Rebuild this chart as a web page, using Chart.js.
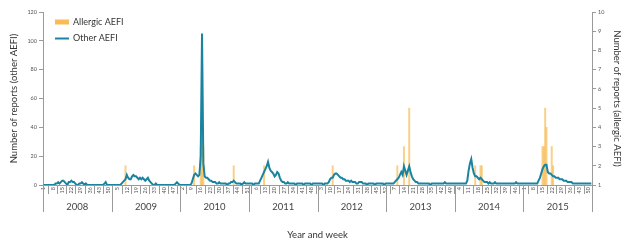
<!DOCTYPE html>
<html><head><meta charset="utf-8">
<script src="https://cdn.jsdelivr.net/npm/chart.js@4/dist/chart.umd.min.js"></script>
<style>html,body{margin:0;padding:0;background:#fff}</style>
</head><body>
<canvas id="c" width="628" height="247"></canvas>
<script>
// ---- data ----
const years = ['2008','2009','2010','2011','2012','2013','2014','2015'];
const weeksPerYear = 52;

// weekly counts of other AEFI (left axis)
const other2008 = [0,0,0,0,0,0,0,0,0,1, 1,2,1,2,3,3,2,1,0,2, 2,3,2,2,1,0,0,1,1,2, 1,0,1,0,0,0,0,0,0,0, 0,0,0,0,0,0,1,2,0,0, 0,0];
const other2009 = [0,0,0,0,0,0,0,1,2,3, 4,7,5,4,4,6,7,6,6,5, 4,5,4,5,4,3,4,5,3,2, 1,0,0,1,0,0,0,0,0,0, 0,0,0,0,0,0,0,0,1,2, 1,0];
const other2010 = [0,0,0,0,0,0,0,0,1,4, 7,8,7,6,7,20,105,15,6,5, 5,4,3,3,2,2,2,1,1,2, 1,1,1,1,1,0,1,1,2,2, 3,2,1,1,1,1,0,1,2,1, 1,1];
const other2011 = [1,1,1,0,1,1,1,1,3,5, 7,9,11,13,16,12,10,9,8,6, 7,9,8,5,3,2,2,1,1,2, 1,1,1,1,1,0,1,1,1,1, 1,0,1,1,1,1,1,0,1,1, 1,1];
const other2012 = [1,1,1,1,0,1,1,1,2,4, 5,5,7,8,8,7,6,5,5,4, 4,3,3,3,2,3,2,2,2,1, 1,2,2,2,1,1,1,0,1,1, 1,1,1,0,1,1,1,1,1,1, 0,1];
const other2013 = [1,1,1,1,1,1,2,3,4,5, 7,9,7,13,10,7,10,13,9,6, 4,3,2,2,1,1,1,1,1,1, 1,1,1,0,1,1,1,1,1,1, 1,1,1,1,2,1,1,1,1,1, 1,1];
const other2014 = [1,1,1,1,1,1,1,1,1,3, 10,15,18,12,8,6,6,5,4,5, 4,3,2,2,2,1,2,1,1,1, 2,1,1,1,1,1,1,1,1,1, 1,1,1,1,1,1,2,1,1,1, 1,1];
const other2015 = [1,1,1,1,1,1,1,1,1,1, 1,3,5,8,11,13,14,14,9,8, 8,7,6,6,5,5,5,4,4,4, 3,3,3,2,2,2,2,1,1,1, 1,1,1,1,1,1,1,1,1,1, 1,1];

// allergic AEFI: [week, count] (right axis, starts at 1)
const allergic2008 = [];
const allergic2009 = [[11,2]];
const allergic2010 = [[11,2],[16,3],[17,4],[18,3],[41,2]];
const allergic2011 = [[12,2]];
const allergic2012 = [[12,2]];
const allergic2013 = [[9,2],[14,3],[18,5]];
const allergic2014 = [[16,2],[20,2],[21,2]];
const allergic2015 = [[15,3],[16,3],[17,5],[18,4],[22,3],[23,2]];

const leftTicks = {min:0, max:120, step:20};
const rightTicks = {min:1, max:10, step:1};
const weekTickStep = 7;

// ---- build ----
const otherByYear = [other2008,other2009,other2010,other2011,other2012,other2013,other2014,other2015];
const allergicByYear = [allergic2008,allergic2009,allergic2010,allergic2011,allergic2012,allergic2013,allergic2014,allergic2015];
const labels = [], weekNums = [], otherData = [], allergicData = [];
years.forEach((y, yi) => {
  for (let w = 1; w <= weeksPerYear; w++) {
    labels.push(y + '-W' + w);
    weekNums.push(w);
    otherData.push(otherByYear[yi][w-1]);
    const hit = allergicByYear[yi].find(p => p[0] === w);
    allergicData.push(hit ? hit[1] : null);
  }
});

const FONT = 'Lato';
const BAR = 'rgba(246,176,58,0.6)';
const LINE = '#1a84a0';
const extras = {
  id: 'extras',
  afterDraw(chart) {
    const ctx = chart.ctx, x = chart.scales.x, a = chart.chartArea;
    const half = (x.getPixelForValue(1) - x.getPixelForValue(0)) / 2;
    ctx.save();
    ctx.strokeStyle = '#9a9a9a'; ctx.lineWidth = 1;
    for (let k = 0; k <= years.length; k++) {
      const i = k * weeksPerYear;
      const px = Math.round((i < labels.length ? x.getPixelForValue(i) - half : x.getPixelForValue(labels.length-1) + half)) + 0.5;
      ctx.beginPath(); ctx.moveTo(px, a.bottom); ctx.lineTo(px, a.bottom + 27); ctx.stroke();
    }
    ctx.fillStyle = '#444'; ctx.font = '9.5px ' + FONT; ctx.textAlign = 'center'; ctx.textBaseline = 'middle';
    years.forEach((y, k) => {
      const p0 = x.getPixelForValue(k*weeksPerYear) - half;
      const p1 = x.getPixelForValue((k+1)*weeksPerYear - 1) + half;
      ctx.fillText(y, (p0+p1)/2, a.bottom + 22);
    });
    ctx.fillStyle = '#333';
    ctx.fillText('Year and week', (a.left + a.right)/2, 235);
    // legend
    ctx.fillStyle = 'rgba(246,176,58,0.85)';
    ctx.fillRect(55, 19.5, 14, 5);
    ctx.strokeStyle = LINE; ctx.lineWidth = 2;
    ctx.beginPath(); ctx.moveTo(55, 38.5); ctx.lineTo(69, 38.5); ctx.stroke();
    ctx.fillStyle = '#333'; ctx.font = '9px ' + FONT; ctx.textAlign = 'left';
    ctx.fillText('Allergic AEFI', 73, 22);
    ctx.fillText('Other AEFI', 73, 38.5);
    ctx.restore();
  }
};

new Chart(document.getElementById('c'), {
  data: {
    labels,
    datasets: [
      { type: 'line', label: 'Other AEFI', data: otherData, yAxisID: 'y', borderColor: LINE, borderWidth: 2,
        pointRadius: 0, tension: 0, order: 0 },
      { type: 'bar', label: 'Allergic AEFI', data: allergicData, yAxisID: 'y2', backgroundColor: BAR,
        barPercentage: 1, categoryPercentage: 1, order: 1 }
    ]
  },
  options: {
    responsive: false, animation: false, devicePixelRatio: 1,
    layout: { padding: { top: 12, left: 0, right: 0, bottom: 0 } },
    plugins: { legend: { display: false }, tooltip: { enabled: false } },
    scales: {
      x: {
        type: 'category', offset: true,
        grid: { offset: true, drawOnChartArea: false, drawTicks: true, tickLength: 9,
                color: c => (c.index % weekTickStep === 4) ? '#9a9a9a' : 'rgba(0,0,0,0)' },
        border: { color: '#9a9a9a' },
        ticks: { autoSkip: false, minRotation: 90, maxRotation: 90, padding: -7, color: '#555',
                 font: { family: FONT, size: 5.5 },
                 callback: (v, i) => (i % weekTickStep === 0) ? String(weekNums[i]) : '' },
        afterFit: s => { s.height = 62; }
      },
      y: {
        position: 'left', min: leftTicks.min, max: leftTicks.max,
        ticks: { stepSize: leftTicks.step, color: '#555', padding: 2, font: { family: FONT, size: 5.5 } },
        grid: { drawOnChartArea: false, tickLength: 4, color: '#9a9a9a' },
        border: { color: '#9a9a9a' },
        title: { display: true, text: 'Number of reports (other AEFI)', color: '#333', font: { family: FONT, size: 9.5 }, padding: { top: 8, bottom: 0 } },
        afterFit: s => { s.width = 43; }
      },
      y2: {
        position: 'right', min: rightTicks.min, max: rightTicks.max,
        ticks: { stepSize: rightTicks.step, color: '#555', padding: 2, font: { family: FONT, size: 5.5 } },
        grid: { drawOnChartArea: false, tickLength: 4, color: '#9a9a9a' },
        border: { color: '#9a9a9a' },
        title: { display: true, text: 'Number of reports (allergic AEFI)', color: '#333', font: { family: FONT, size: 9.5 }, padding: { top: 5, bottom: 0 } },
        afterFit: s => { s.width = 36; }
      }
    }
  },
  plugins: [extras]
});
</script>
</body></html>
